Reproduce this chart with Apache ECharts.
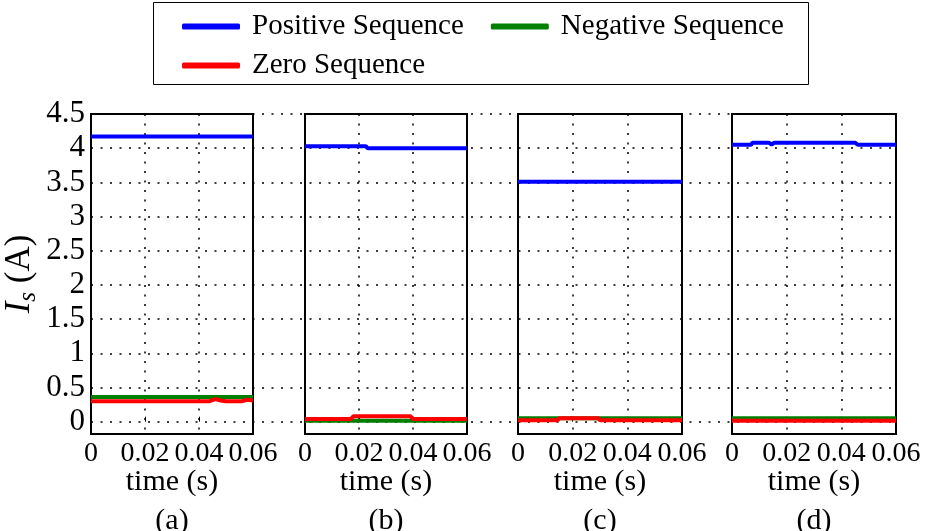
<!DOCTYPE html>
<html>
<head>
<meta charset="utf-8">
<script src="https://cdn.jsdelivr.net/npm/echarts@6/dist/echarts.min.js"></script>
<style>
  html, body { margin: 0; padding: 0; background: #fff; }
  #chart { width: 926px; height: 531px; }
</style>
</head>
<body>
<div id="chart"></div>
<script>
var FONT = "'Liberation Serif', 'Times New Roman', serif";

// tick labels
var yTicks = [0, 0.5, 1, 1.5, 2, 2.5, 3, 3.5, 4, 4.5];
var panelTags = ['(a)', '(b)', '(c)', '(d)'];
var seqNames = ['Positive Sequence', 'Negative Sequence', 'Zero Sequence'];
var seqColors = ['#0000ff', '#007f00', '#ff0000'];

// panel (a)
var posA_t = [0, 0.06];
var posA   = [4.17, 4.17];
var negA_t = [0, 0.06];
var negA   = [0.36, 0.36];
var zeroA_t = [0, 0.044, 0.046, 0.048, 0.05, 0.056, 0.058, 0.06];
var zeroA   = [0.30, 0.30, 0.33, 0.31, 0.30, 0.30, 0.32, 0.31];

// panel (b)
var posB_t = [0, 0.0225, 0.0232, 0.06];
var posB   = [4.03, 4.03, 4.0, 4.0];
var negB_t = [0, 0.06];
var negB   = [0.015, 0.015];
var zeroB_t = [0, 0.017, 0.018, 0.039, 0.040, 0.06];
var zeroB   = [0.04, 0.04, 0.08, 0.08, 0.04, 0.04];

// panel (c)
var posC_t = [0, 0.06];
var posC   = [3.51, 3.51];
var negC_t = [0, 0.06];
var negC   = [0.05, 0.05];
var zeroC_t = [0, 0.0145, 0.015, 0.0295, 0.030, 0.06];
var zeroC   = [0.02, 0.02, 0.05, 0.05, 0.02, 0.02];

// panel (d)
var posD_t = [0, 0.007, 0.0075, 0.0135, 0.0145, 0.0155, 0.045, 0.046, 0.06];
var posD   = [4.05, 4.05, 4.08, 4.08, 4.05, 4.08, 4.08, 4.05, 4.05];
var negD_t = [0, 0.06];
var negD   = [0.05, 0.05];
var zeroD_t = [0, 0.06];
var zeroD   = [0.015, 0.015];

var panels = [
    [[posA_t, posA], [negA_t, negA], [zeroA_t, zeroA]],
    [[posB_t, posB], [negB_t, negB], [zeroB_t, zeroB]],
    [[posC_t, posC], [negC_t, negC], [zeroC_t, zeroC]],
    [[posD_t, posD], [negD_t, negD], [zeroD_t, zeroD]]
];

var panelLeft = [91, 305, 518, 732];
var panelWidth = [162, 162, 164, 164];
var plotTop = 114, plotHeight = 320;
var yMin = -0.18, yMax = 4.5;

function pairs(t, v){
    var out = [];
    for (var i = 0; i < t.length; i++) out.push([t[i], v[i]]);
    return out;
}

var dots = [2, 7.5];

var grids = [{left: 91, width: 805, top: plotTop, height: plotHeight, show: false, outerBoundsMode: 'none'}];
var xAxes = [{gridIndex: 0, type: 'value', min: 0, max: 1, show: false}];
var yAxes = [{
    gridIndex: 0, type: 'value', min: yMin, max: yMax,
    axisLine: {show: false},
    axisTick: {show: false, customValues: yTicks},
    axisLabel: {customValues: yTicks, fontFamily: FONT, fontSize: 31, color: '#000', margin: 6},
    splitLine: {show: true, lineStyle: {color: '#000', width: 1.5, type: dots}},
    name: '{i|I}{s|s}{n| (A)}',
    nameLocation: 'middle',
    nameGap: 50,
    nameMoveOverlap: false,
    nameTextStyle: {
        rich: {
            i: {fontFamily: FONT, fontSize: 35, fontStyle: 'italic', color: '#000', lineHeight: 42, verticalAlign: 'middle'},
            s: {fontFamily: FONT, fontSize: 25, fontStyle: 'italic', color: '#000', lineHeight: 42, verticalAlign: 'bottom'},
            n: {fontFamily: FONT, fontSize: 35, color: '#000', lineHeight: 42, verticalAlign: 'middle'}
        }
    }
}];
var series = [];

for (var p = 0; p < 4; p++) {
    var gi = p + 1;
    grids.push({
        left: panelLeft[p], width: panelWidth[p], top: plotTop, height: plotHeight,
        show: true, borderColor: '#000', borderWidth: 2, backgroundColor: 'transparent',
        outerBoundsMode: 'none'
    });
    xAxes.push({
        gridIndex: gi, type: 'value', min: 0, max: 0.06, interval: 0.02,
        axisLine: {show: false},
        axisTick: {show: true, inside: true, length: 5, lineStyle: {color: '#000', width: 1}},
        axisLabel: {
            fontFamily: FONT, fontSize: 28, color: '#000', margin: 6,
            formatter: function (v) { return v === 0 ? '0' : v.toFixed(2); }
        },
        splitLine: {show: true, lineStyle: {color: '#000', width: 1.5, type: dots}},
        name: 'time (s)\n' + panelTags[p],
        nameLocation: 'middle',
        nameGap: 29,
        nameMoveOverlap: false,
        nameTextStyle: {fontFamily: FONT, fontSize: 30, color: '#000', lineHeight: 39}
    });
    yAxes.push({gridIndex: gi, type: 'value', min: yMin, max: yMax, show: false});
    for (var s = 0; s < 3; s++) {
        series.push({
            name: seqNames[s],
            type: 'line',
            xAxisIndex: gi, yAxisIndex: gi,
            showSymbol: false,
            symbol: 'none',
            color: seqColors[s],
            lineStyle: {width: 4, color: seqColors[s]},
            data: pairs(panels[p][s][0], panels[p][s][1]),
            z: 3 + s
        });
    }
}

var legendText = {fontFamily: FONT, fontSize: 29, color: '#000', padding: [0, 0, 0, 7]};

var chart = echarts.init(document.getElementById('chart'));
chart.setOption({
    animation: false,
    backgroundColor: '#fff',
    legend: [
        {data: ['Positive Sequence', 'Negative Sequence'], left: 177, top: 7, itemWidth: 58, itemHeight: 6, itemGap: 27, icon: 'roundRect', textStyle: legendText, selectedMode: false},
        {data: ['Zero Sequence'], left: 177, top: 46, itemWidth: 58, itemHeight: 6, itemGap: 27, icon: 'roundRect', textStyle: legendText, selectedMode: false}
    ],
    graphic: [{
        type: 'rect', z: -1,
        shape: {x: 153.5, y: 2.5, width: 655, height: 82},
        style: {fill: '#fff', stroke: '#000', lineWidth: 1}
    }],
    grid: grids,
    xAxis: xAxes,
    yAxis: yAxes,
    series: series
});
</script>
</body>
</html>
